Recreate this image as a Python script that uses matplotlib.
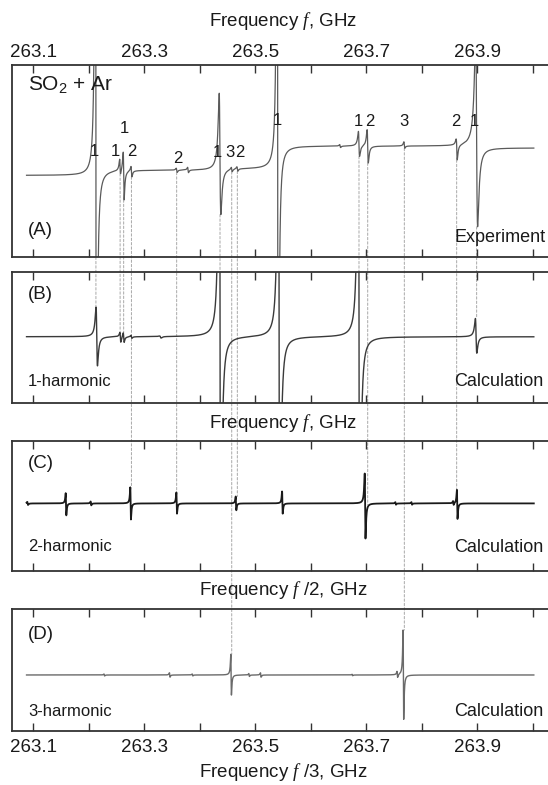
import numpy as np
import matplotlib
matplotlib.use("Agg")
import matplotlib.pyplot as plt
from matplotlib.patches import ConnectionPatch
from matplotlib.ticker import FixedLocator, FixedFormatter

plt.rcParams['font.family'] = ['Liberation Sans', 'DejaVu Sans']
plt.rcParams['mathtext.fontset'] = 'custom'
plt.rcParams['mathtext.rm'] = 'Liberation Sans'
plt.rcParams['mathtext.it'] = 'Liberation Serif:italic'

# ------------------------------------------------------------------ data
freq_start, freq_stop = 263.088, 264.002
tick_values = [263.1, 263.2, 263.3, 263.4, 263.5, 263.6, 263.7, 263.8, 263.9, 264.0]
tick_labels = ["263.1", "", "263.3", "", "263.5", "", "263.7", "", "263.9", ""]

# Panel A: experiment (baseline steps at strong lines)
exp_base_levels = [0.425, 0.452, 0.460, 0.578, 0.568]
exp_base_edges = [263.2130, 263.4366, 263.5405, 263.8990]
exp_centers = [263.2130, 263.2566, 263.2630, 263.2770, 263.3585, 263.3790, 263.4366,
               263.4577, 263.4678, 263.5405, 263.6530, 263.6870, 263.7027, 263.7687,
               263.8630, 263.8990]
exp_up = [3.0, 0.055, 0.10, 0.025, 0.010, 0.014, 0.40, 0.012, 0.012, 3.0, 0.008,
          0.075, 0.087, 0.022, 0.030, 0.60]
exp_down = [3.0, 0.025, 0.15, 0.030, 0.012, 0.014, 0.24, 0.012, 0.012, 3.0, 0.008,
            0.056, 0.087, 0.012, 0.080, 0.41]
exp_width = [0.0011, 0.0012, 0.0012, 0.0012, 0.0012, 0.0012, 0.0021, 0.0012, 0.0012,
             0.0011, 0.0012, 0.0015, 0.0015, 0.0012, 0.0014, 0.0025]

# Panel B: 1-harmonic calculation
h1_base = 0.502
h1_centers = [263.2145, 263.2570, 263.2630, 263.2770, 263.3290, 263.4366, 263.5430,
              263.6870, 263.8980]
h1_up = [0.225, 0.030, 0.035, 0.012, 0.004, 3.0, 3.0, 3.0, 0.14]
h1_down = [0.223, 0.046, 0.040, 0.012, 0.012, 3.0, 3.0, 3.0, 0.125]
h1_width = [0.0018, 0.0012, 0.0012, 0.0012, 0.0020, 0.00152, 0.00152, 0.00152, 0.0018]

# Panel C: 2-harmonic calculation
h2_base = 0.52
h2_centers = [263.0900, 263.1591, 263.2040, 263.2755, 263.3585, 263.4654, 263.5490,
              263.6980, 263.7530, 263.7820, 263.8570, 263.8640]
h2_up = [0.012, 0.079, 0.015, 0.124, 0.084, 0.053, 0.092, 0.23, 0.010, 0.010, 0.015, 0.105]
h2_down = [0.012, 0.092, 0.015, 0.124, 0.079, 0.053, 0.079, 0.27, 0.010, 0.010, 0.015, 0.119]
h2_width = [0.0010, 0.0008, 0.0008, 0.0008, 0.0008, 0.0008, 0.0008, 0.0010, 0.0008,
            0.0008, 0.0008, 0.0008]

# Panel D: 3-harmonic calculation
h3_base = 0.457
h3_centers = [263.2280, 263.3460, 263.3870, 263.4566, 263.4890, 263.5100, 263.6750,
              263.7560, 263.7670]
h3_up = [0.008, 0.018, 0.008, 0.17, 0.012, 0.018, 0.006, 0.025, 0.37]
h3_down = [0.008, 0.018, 0.008, 0.165, 0.012, 0.018, 0.006, 0.025, 0.365]
h3_width = [0.0008, 0.0008, 0.0008, 0.0008, 0.0008, 0.0008, 0.0008, 0.0008, 0.0008]

# peak labels over the experimental trace
peak_labels = ["1", "1", "1", "2", "2", "1", "3", "2", "1", "1", "2", "3", "2", "1"]
peak_label_x = [263.2105, 263.2481, 263.2638, 263.2784, 263.3597, 263.4324, 263.4546,
                263.4714, 263.5393, 263.6865, 263.7069, 263.7686, 263.8612, 263.8942]
peak_label_y = [0.557, 0.557, 0.679, 0.557, 0.519, 0.554, 0.554, 0.554, 0.717, 0.714,
                0.714, 0.714, 0.714, 0.714]

# dashed guide lines: frequency and the harmonic panel where they end
guide_freqs = [263.2130, 263.2566, 263.2630, 263.2770, 263.3585, 263.4366, 263.4577,
               263.4678, 263.6870, 263.7027, 263.7687, 263.8630, 263.8990]
guide_harmonic = [1, 1, 1, 2, 2, 1, 3, 2, 1, 2, 3, 2, 1]

# ------------------------------------------------------------------ helpers
x = np.linspace(freq_start, freq_stop, 60001)


def spectrum(base, centers, up, down, width):
    y = np.zeros_like(x) + base
    for c, hu, hd, w in zip(centers, up, down, width):
        u = (c - x) / w
        shape = u / (1.0 + u ** 2) ** 1.5 / 0.3849
        y = y + np.where(u > 0, hu, hd) * shape
    return y


exp_base = np.full_like(x, exp_base_levels[0])
for edge, lo, hi in zip(exp_base_edges, exp_base_levels[:-1], exp_base_levels[1:]):
    exp_base = exp_base + (hi - lo) * (x > edge)

y_exp = spectrum(exp_base, exp_centers, exp_up, exp_down, exp_width)
y_h1 = spectrum(h1_base, h1_centers, h1_up, h1_down, h1_width)
y_h2 = spectrum(h2_base, h2_centers, h2_up, h2_down, h2_width)
y_h3 = spectrum(h3_base, h3_centers, h3_up, h3_down, h3_width)

# ------------------------------------------------------------------ figure
W, H = 548, 785
fig = plt.figure(figsize=(W / 100, H / 100), dpi=100)
fig.patch.set_facecolor('white')

left_px, right_px = 12.3, 554.0
px_per_ghz = 555.0
xlim = (263.1 - (33.2 - left_px) / px_per_ghz, 263.1 + (right_px - 33.2) / px_per_ghz)
panels_px = [(65.0, 257.0), (271.5, 402.5), (441.0, 571.0), (609.0, 730.5)]

axes = []
for top, bot in panels_px:
    ax = fig.add_axes([left_px / W, 1 - bot / H, (right_px - left_px) / W, (bot - top) / H])
    ax.set_xlim(*xlim)
    ax.set_ylim(0, 1)
    ax.patch.set_visible(False)
    ax.set_yticks([])
    ax.xaxis.set_major_locator(FixedLocator(tick_values))
    ax.xaxis.set_major_formatter(FixedFormatter(tick_labels))
    ax.tick_params(axis='x', which='major', direction='in', top=True, bottom=True,
                   labeltop=False, labelbottom=False, length=5.5, width=1.0,
                   color='#333333', labelsize=13.5, labelcolor='#1a1a1a')
    for s in ax.spines.values():
        s.set_linewidth(1.3)
        s.set_color('#333333')
    axes.append(ax)

axA, axB, axC, axD = axes
axA.tick_params(axis='x', labeltop=True, pad=3.0)
axD.tick_params(axis='x', labelbottom=True, pad=6.0)

axA.plot(x, y_exp, color='#5a5a5a', lw=0.9)
axB.plot(x, y_h1, color='#3a3a3a', lw=1.0)
axC.plot(x, y_h2, color='#1a1a1a', lw=1.3)
axD.plot(x, y_h3, color='#6a6a6a', lw=1.0)

# axis titles
cx = (left_px + right_px) / 2 / W
fs_title = 13.5
fig.text(cx, 1 - 25.5 / H, r'Frequency $\mathit{f}$, GHz', ha='center', va='baseline',
         fontsize=fs_title, color='#1a1a1a')
fig.text(cx, 1 - 428.5 / H, r'Frequency $\mathit{f}$, GHz', ha='center', va='baseline',
         fontsize=fs_title, color='#1a1a1a')
fig.text(cx, 1 - 595 / H, r'Frequency $\mathit{f}$ /2, GHz', ha='center', va='baseline',
         fontsize=fs_title, color='#1a1a1a')
fig.text(cx, 1 - 777 / H, r'Frequency $\mathit{f}$ /3, GHz', ha='center', va='baseline',
         fontsize=fs_title, color='#1a1a1a')

# panel texts
lx = (28 - left_px) / (right_px - left_px)
rx_exp = (546 - left_px) / (right_px - left_px)
rx_calc = (543 - left_px) / (right_px - left_px)
tc = '#1a1a1a'
axA.text(lx, 0.90, r'SO$_2$ + Ar', transform=axA.transAxes, fontsize=15, va='center', color=tc)
axA.text(lx, 0.14, '(A)', transform=axA.transAxes, fontsize=13.5, va='center', color=tc)
axA.text(rx_exp, 0.10, 'Experiment', transform=axA.transAxes, fontsize=13, va='center',
         ha='right', color=tc)
axB.text(lx, 0.828, '(B)', transform=axB.transAxes, fontsize=13.5, va='center', color=tc)
axB.text(lx, 0.164, '1-harmonic', transform=axB.transAxes, fontsize=12, va='center', color=tc)
axB.text(rx_calc, 0.164, 'Calculation', transform=axB.transAxes, fontsize=13, va='center',
         ha='right', color=tc)
axC.text(lx, 0.83, '(C)', transform=axC.transAxes, fontsize=13.5, va='center', color=tc)
axC.text(lx, 0.185, '2-harmonic', transform=axC.transAxes, fontsize=12, va='center', color=tc)
axC.text(rx_calc, 0.177, 'Calculation', transform=axC.transAxes, fontsize=13, va='center',
         ha='right', color=tc)
axD.text(lx, 0.794, '(D)', transform=axD.transAxes, fontsize=13.5, va='center', color=tc)
axD.text(lx, 0.16, '3-harmonic', transform=axD.transAxes, fontsize=12, va='center', color=tc)
axD.text(rx_calc, 0.16, 'Calculation', transform=axD.transAxes, fontsize=13, va='center',
         ha='right', color=tc)

for lab, lxp, lyp in zip(peak_labels, peak_label_x, peak_label_y):
    axA.text(lxp, lyp, lab, fontsize=12, ha='center', va='center_baseline', color=tc)

# dashed guides
traces = {1: y_h1, 2: y_h2, 3: y_h3}
target_axes = {1: axB, 2: axC, 3: axD}
for f, hn in zip(guide_freqs, guide_harmonic):
    win = np.abs(x - f) < 0.004
    y_start = float(np.clip(y_exp[win].min(), 0, 1))
    y_end = float(np.clip(traces[hn][win].max(), 0, 1))
    con = ConnectionPatch(xyA=(f, y_start), coordsA='data', axesA=axA,
                          xyB=(f, y_end), coordsB='data', axesB=target_axes[hn],
                          linestyle=(0, (2.5, 2.0)), color='#a8a8a8', lw=0.7, zorder=-1)
    fig.add_artist(con)

fig.savefig('out.png', dpi=100, facecolor='white')
